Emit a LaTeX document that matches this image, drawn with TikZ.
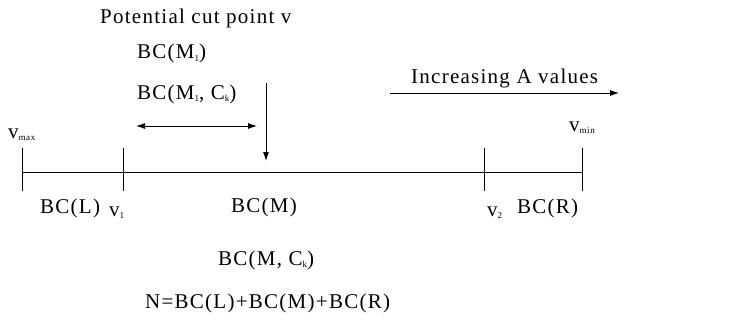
\documentclass[tikz,border=0pt]{standalone}
\usepackage{fontspec}
\setmainfont{Liberation Serif}[LetterSpace=6]
\usetikzlibrary{arrows.meta}
\newcommand\lowidx[1]{\raisebox{-0.12em}{\fontsize{9}{9}\selectfont #1}}
\begin{document}
\begin{tikzpicture}[x=1pt,y=-1pt,
  lbl/.style={inner sep=0pt,anchor=base west,font=\fontsize{21}{24}\selectfont},
  ln/.style={line width=0.9pt,black},
  arr/.style={ln,-{Latex[length=9pt,width=6pt]}},
  darr/.style={ln,{Latex[length=9pt,width=6pt]}-{Latex[length=9pt,width=6pt]}}]
\useasboundingbox (0,0) rectangle (735,321);
% labels
\node[lbl] (pot) at (100,24) {Potential cut point v};
\node[lbl] (bcm1) at (137,59) {BC(M\lowidx{1})};
\node[lbl] (bcm1ck) at (137,99) {BC(M\lowidx{1}, C\lowidx{k})};
\node[lbl] (vmax) at (8,138) {v\lowidx{max}};
\node[lbl] (inc) at (411,83) {Increasing A values};
\node[lbl] (vmin) at (569,131) {v\lowidx{min}};
\node[lbl] (bcl) at (40,213) {BC(L)};
\node[lbl] (v1) at (109,216) {v\lowidx{1}};
\node[lbl] (bcm) at (231,212) {BC(M)};
\node[lbl] (v2) at (487,216) {v\lowidx{2}};
\node[lbl] (bcr) at (517,213) {BC(R)};
\node[lbl] (bcmck) at (218,265) {BC(M, C\lowidx{k})};
\node[lbl] (nsum) at (145,308) {N=BC(L)+BC(M)+BC(R)};
% line and ticks
\coordinate (l0) at (22,172);
\coordinate (l1) at (582,172);
\foreach \n/\x in {t0/22,t1/123,t2/484,t3/582}{
  \coordinate (\n a) at (\x,148);
  \coordinate (\n b) at (\x,191);
  \draw[ln] (\n a) -- (\n b);
}
\draw[ln] (l0) -- (l1);
% arrows
\coordinate (da) at (136,126);
\coordinate (db) at (257,126);
\draw[darr] (da) -- (db);
\coordinate (ca) at (266,83);
\coordinate (cb) at (266,161);
\draw[arr] (ca) -- (cb);
\coordinate (ia) at (390,93);
\coordinate (ib) at (619,93);
\draw[arr] (ia) -- (ib);
\end{tikzpicture}
\end{document}
